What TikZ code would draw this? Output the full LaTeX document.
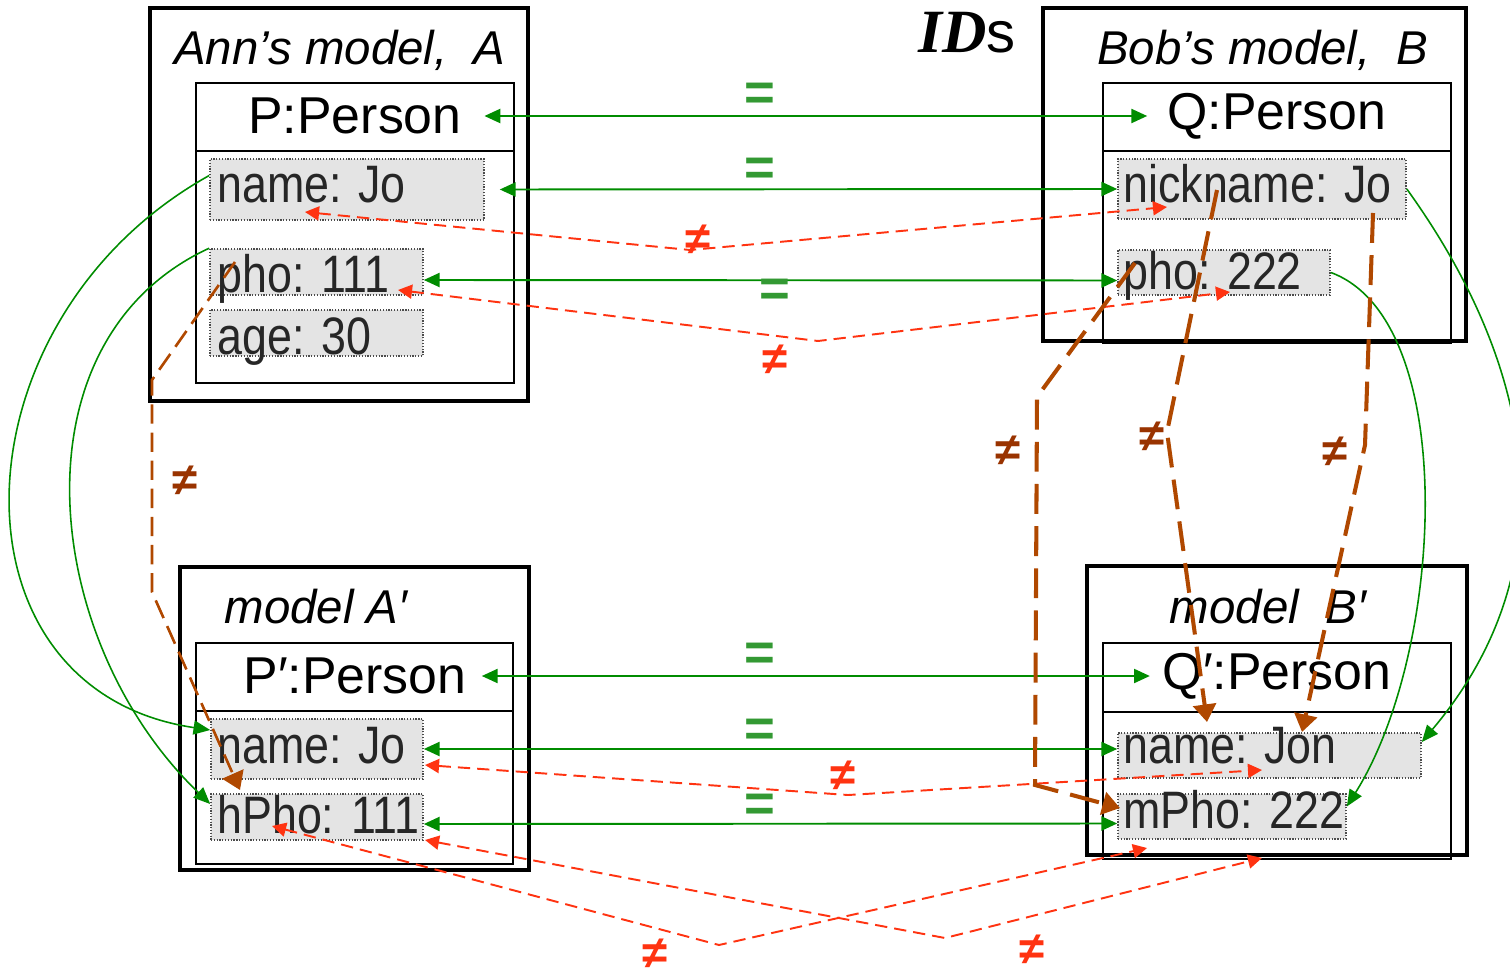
\documentclass[tikz,border=0pt]{standalone}
\usepackage{fontspec}
\setmainfont{Liberation Sans}
\setsansfont{Liberation Sans}
\newfontfamily\narrowfont[FakeStretch=0.85]{Liberation Sans}
\newfontfamily\idfont{Liberation Serif}
\usetikzlibrary{arrows.meta,fit,calc}
\definecolor{grn}{RGB}{0,140,0}
\definecolor{eqgrn}{RGB}{51,153,51}
\definecolor{redd}{RGB}{255,51,17}
\definecolor{brn}{RGB}{176,72,0}
\definecolor{brnlab}{RGB}{153,51,0}
\definecolor{attrfill}{RGB}{228,228,228}
\definecolor{txtgray}{RGB}{38,38,38}
\begin{document}
\begin{tikzpicture}[x=0.02cm,y=-0.02cm,
  outerbox/.style={draw, line width=2.2pt, inner sep=0pt},
  clsbox/.style={draw, line width=1.3pt, inner sep=0pt},
  attrbox/.style={draw=black!70, line width=0.9pt, dash pattern=on 0.7pt off 0.9pt, fill=attrfill, inner sep=0pt},
  attrtxt/.style={anchor=base west, inner sep=0pt, text=txtgray, font=\narrowfont\fontsize{30}{32}\selectfont},
  headtxt/.style={inner sep=0pt, font=\fontsize{29.5}{31}\selectfont},
  titletxt/.style={anchor=base, inner sep=0pt, font=\itshape\fontsize{27}{28}\selectfont},
  eqlink/.style={draw=grn, line width=1.1pt, {Triangle[length=9pt,width=8pt]}-{Triangle[length=9pt,width=8pt]}},
  eqcurve/.style={draw=grn, line width=0.9pt, -{Triangle[length=9.5pt,width=8pt]}},
  neqlink/.style={draw=redd, line width=1.1pt, dash pattern=on 7pt off 4pt, {Triangle[length=8pt,width=8pt]}-{Triangle[length=8pt,width=8pt]}},
  brnthick/.style={draw=brn, line width=2.3pt, dash pattern=on 17pt off 7pt, -{Triangle[length=10pt,width=13pt]}},
  brnthin/.style={draw=brn, line width=1.5pt, dash pattern=on 11pt off 5pt, -{Triangle[length=10pt,width=13pt]}},
  eqlab/.style={text=eqgrn, inner sep=0pt, font=\bfseries\fontsize{30}{30}\selectfont},
  neqlab/.style={text=redd, inner sep=0pt, font=\bfseries\fontsize{26}{26}\selectfont},
  bneqlab/.style={text=brnlab, inner sep=0pt, font=\bfseries\fontsize{26}{26}\selectfont}
]
\useasboundingbox (0,0) rectangle (1510,976);

% ---------- model A ----------
\node[outerbox, fit={(150,8) (528,401)}] (A) {};
\node[clsbox, fit={(196,83) (514,383)}] (Acls) {};
\draw[line width=1.3pt] (196,151) -- (514,151);
\node[titletxt] (Atitle) at (340,65) {Ann’s model,\ \ A};
\node[headtxt] (Phead) at (355,116) {P:Person};
\node[attrbox, fit={(210,159) (484,220)}] (Aname) {};
\node[attrtxt] (AnameT) at (217,203) {name: Jo};
\node[attrbox, fit={(210,249) (423,295)}] (Apho) {};
\node[attrtxt] (AphoT) at (217,293) {pho: 111};
\node[attrbox, fit={(210,310) (423,356)}] (Aage) {};
\node[attrtxt] (AageT) at (217,355) {age: 30};

% ---------- model B ----------
\node[outerbox, fit={(1043,8) (1466,341)}] (B) {};
\node[clsbox, fit={(1103,83) (1451,343)}] (Bcls) {};
\draw[line width=1.3pt] (1103,151) -- (1451,151);
\node[titletxt] (Btitle) at (1263,65) {Bob’s model,\ \ B};
\node[headtxt] (Qhead) at (1277,116) {Q:Person};
\node[attrbox, fit={(1118,159) (1406,219)}] (Bnick) {};
\node[attrtxt] (BnickT) at (1123,203) {nickname: Jo};
\node[attrbox, fit={(1118,250) (1330,295)}] (Bpho) {};
\node[attrtxt] (BphoT) at (1123,290) {pho: 222};

% ---------- model A' ----------
\node[outerbox, fit={(180,567) (529,870)}] (Ap) {};
\node[clsbox, fit={(196,643) (513,864)}] (Apcls) {};
\draw[line width=1.3pt] (196,711) -- (513,711);
\node[titletxt] (Aptitle) at (316,623) {model A\char"2032};
\node[headtxt] (Pphead) at (355,676) {P\char"2032:Person};
\node[attrbox, fit={(211,719) (423,779)}] (Apname) {};
\node[attrtxt] (ApnameT) at (217,763) {name: Jo};
\node[attrbox, fit={(211,794) (423,840)}] (Aphpho) {};
\node[attrtxt] (AphphoT) at (217,833) {hPho: 111};

% ---------- model B' ----------
\node[outerbox, fit={(1087,566) (1467,855)}] (Bp) {};
\node[clsbox, fit={(1103,643) (1451,859)}] (Bpcls) {};
\draw[line width=1.3pt] (1103,712) -- (1451,712);
\node[titletxt] (Bptitle) at (1268,623) {model\ \ B\char"2032};
\node[headtxt] (Qphead) at (1277,676) {Q\char"2032:Person};
\node[attrbox, fit={(1118,733) (1421,778)}] (Bpname) {};
\node[attrtxt] (BpnameT) at (1123,763) {name: Jon};
\node[attrbox, fit={(1118,794) (1346,839)}] (Bpmpho) {};
\node[attrtxt] (BpmphoT) at (1123,828) {mPho: 222};

% ---------- IDs ----------
\node[anchor=base west, inner sep=0pt] (ids) at (918,53)
  {{\idfont\bfseries\itshape\fontsize{35}{35}\selectfont ID}{\fontsize{33}{33}\selectfont s}};

% ---------- green equalities ----------
\draw[eqlink] ([xshift=0.45cm]Phead.east) -- ([xshift=-0.4cm]Qhead.west);
\draw[eqlink] ([xshift=0.3cm]Aname.east) -- (Bnick.west);
\draw[eqlink] ([yshift=-0.16cm]Apho.east) -- ([yshift=-0.16cm]Bpho.west);
\draw[eqlink] ([xshift=0.3cm]Pphead.east) -- ([xshift=-0.25cm]Qphead.west);
\draw[eqlink] (Apname.east) -- (Apname.east -| Bpname.west);
\draw[eqlink] ([yshift=-0.14cm]Aphpho.east) -- ([yshift=-0.14cm]Bpmpho.west);

\node[eqlab] (e1) at (760,97) {=};
\node[eqlab] (e2) at (760,172) {=};
\node[eqlab] (e3) at (775,293) {=};
\node[eqlab] (e4) at (760,657) {=};
\node[eqlab] (e5) at (760,733) {=};
\node[eqlab] (e6) at (760,808) {=};

% green curves
\draw[eqcurve] ([yshift=0.28cm]Aname.west) .. controls (-50,320) and (-60,690) .. ([yshift=0.38cm]Apname.west);
\draw[eqcurve] (Apho.north west) .. controls (10,340) and (40,640) .. ([yshift=0.26cm]Aphpho.west);
\draw[eqcurve] (Bnick.east) .. controls (1530,360) and (1575,560) .. ([yshift=0.27cm]Bpname.east);
\draw[eqcurve] (Bpho.east) .. controls (1460,320) and (1445,650) .. ([yshift=0.2cm]Bpmpho.east);

% ---------- red inequalities ----------
\coordinate (r1a) at (305,212);  \coordinate (r1b) at (1167,207);
\coordinate (r2a) at (398,290);  \coordinate (r2b) at (1230,292);
\coordinate (r3a) at (425,765);  \coordinate (r3b) at (1262,770);
\coordinate (r4a) at (272,826);  \coordinate (r4b) at (1147,848);
\coordinate (r5a) at (425,840);  \coordinate (r5b) at (1262,858);
\draw[neqlink] (r1a) -- (690,250) -- (r1b);
\draw[neqlink] (r2a) -- (818,341) -- (r2b);
\draw[neqlink] (r3a) -- (848,795) -- (r3b);
\draw[neqlink] (r4a) -- (719,945) -- (r4b);
\draw[neqlink] (r5a) -- (945,938) -- (r5b);
\node[neqlab] (n1) at (698,240) {≠};
\node[neqlab] (n2) at (775,360) {≠};
\node[neqlab] (n3) at (843,776) {≠};
\node[neqlab] (n4) at (655,954) {≠};
\node[neqlab] (n5) at (1032,950) {≠};

% ---------- brown inequalities ----------
\coordinate (b1s) at (235,262); \coordinate (b1t) at (240,790);
\coordinate (b2s) at (1135,263); \coordinate (b2t) at (1120,808);
\coordinate (b3s) at (1217,190); \coordinate (b3t) at (1207,722);
\coordinate (b4s) at (1373,213); \coordinate (b4t) at (1302,732);
\draw[brnthin] (b1s) -- (152,380) -- (152,592) -- (b1t);
\draw[brnthick] (b2s) -- (1037,397) -- (1035,785) -- (b2t);
\draw[brnthick] (b3s) -- (1167,432) -- (b3t);
\draw[brnthick] (b4s) -- (1365,445) -- (b4t);
\node[bneqlab] (m1) at (185,481) {≠};
\node[bneqlab] (m2) at (1008,451) {≠};
\node[bneqlab] (m3) at (1152,437) {≠};
\node[bneqlab] (m4) at (1335,452) {≠};
\end{tikzpicture}
\end{document}
